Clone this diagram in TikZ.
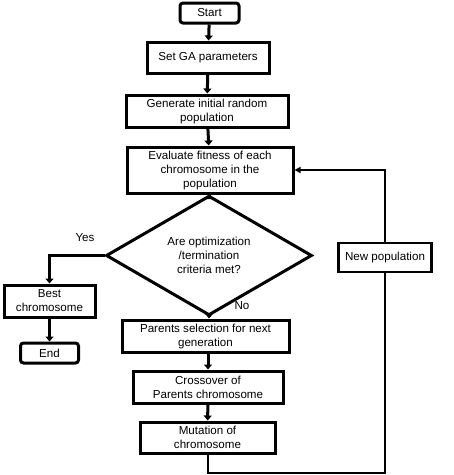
\documentclass[tikz,border=0pt]{standalone}
\usepackage{fontspec}
\setmainfont{Liberation Sans}
\usetikzlibrary{shapes.geometric,arrows.meta}
\begin{document}
\begin{tikzpicture}[x=1pt, y=-1pt, font=\fontsize{11.6}{14}\selectfont]
            \tikzstyle{stepbox} = [draw, line width=3pt, align=center, inner sep=0pt]
            \tikzstyle{terminal} = [draw, line width=3pt, rounded corners=3pt, align=center, inner sep=0pt]
            \tikzstyle{decision} = [draw, diamond, line width=3pt, align=center, inner sep=0pt]
            \tikzstyle{flow} = [line width=3pt, -{Triangle[length=5pt, width=8pt]}]
            \tikzstyle{loop} = [line width=2pt, line join=miter]
            \useasboundingbox (0, 0) rectangle (454, 475);
            \node[terminal, minimum width=59, minimum height=20] (start) at (209.5, 13) {Start};
            \node[stepbox, minimum width=122, minimum height=31] (setga) at (208, 57.5) {Set GA parameters};
            \node[stepbox, minimum width=162, minimum height=32] (gen) at (207, 111) {Generate initial random\\population};
            \node[stepbox, minimum width=166, minimum height=46] (eval) at (210, 170) {Evaluate fitness of each\\chromosome in the\\population};
            \node[decision, minimum width=206, minimum height=85] (crit) at (209, 255.5) {Are optimization\\/termination\\criteria met?};
            \node[stepbox, minimum width=91, minimum height=32] (best) at (49.5, 301) {Best\\chromosome};
            \node[terminal, minimum width=58, minimum height=20] (stop) at (49.5, 353) {End};
            \node[stepbox, minimum width=167, minimum height=32] (parents) at (205.5, 336) {Parents selection for next\\generation};
            \node[stepbox, minimum width=150, minimum height=32] (cross) at (208, 387) {Crossover of\\Parents chromosome};
            \node[stepbox, minimum width=135, minimum height=31] (mut) at (207.5, 437.5) {Mutation of\\chromosome};
            \node[stepbox, line width=2.5pt, minimum width=93, minimum height=29] (newpop) at (385, 257.5) {New population};
            \node (yes) at (85, 238) {Yes};
            \node (no) at (242, 306) {No};

            \draw[flow] (start) -- (setga);
            \draw[flow] (setga) -- (gen);
            \draw[flow] (gen) -- (eval);
            \draw[flow] (eval.south -| crit.north) -- (crit.north);
            \draw[flow] (crit.south) -- (crit.south |- parents.north);
            \draw[flow] (parents.south -| cross.north) -- (cross.north);
            \draw[flow] (cross) -- (mut);
            \draw[flow] (crit.west) -| (best.north);
            \draw[flow] (best) -- (stop);

            \coordinate (back) at (385, 473);
            \draw[loop] (mut.south) |- (back) -- (newpop.south);
            \draw[loop, -{Triangle[length=6pt, width=6pt]}] (newpop.north) |- (eval.east);
        \end{tikzpicture}
\end{document}
